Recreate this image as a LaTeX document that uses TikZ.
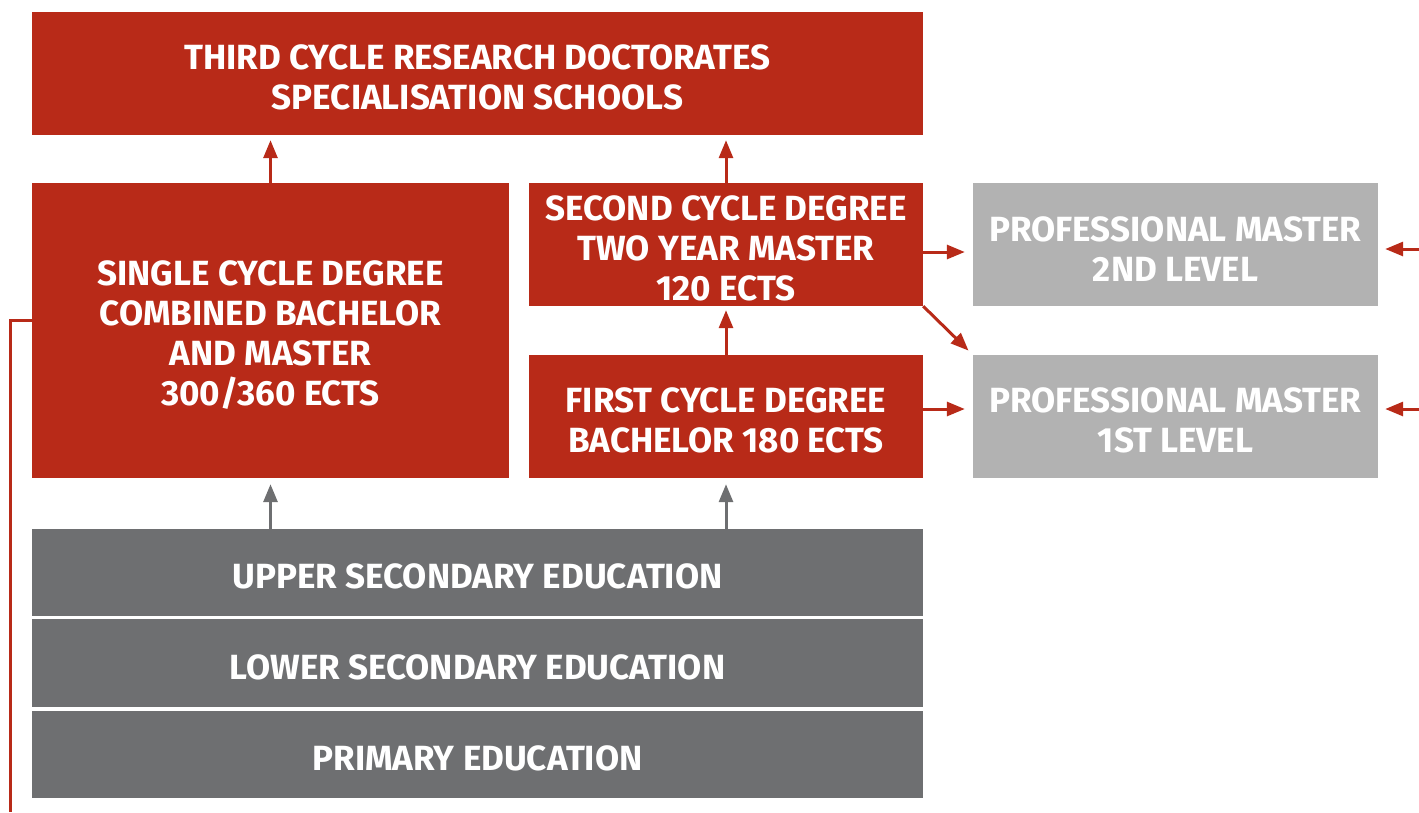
\documentclass[tikz,border=0pt]{standalone}
\usepackage{fontspec}
\setmainfont{Fira Sans}
\usetikzlibrary{arrows.meta}
\definecolor{cred}{RGB}{184,42,24}
\definecolor{cdark}{RGB}{110,111,113}
\definecolor{clight}{RGB}{178,178,178}
\newcommand{\tstrut}{\rule{0pt}{33pt}}
\begin{document}
\begin{tikzpicture}[x=1pt,y=-1pt,
  box/.style={inner sep=0pt,align=center,text=white,
    font=\fontsize{35}{40}\selectfont\bfseries},
  redbox/.style={box,fill=cred},
  darkbox/.style={box,fill=cdark},
  lightbox/.style={box,fill=clight},
  redarr/.style={draw=cred,line width=3pt,-{Triangle[length=18pt,width=14pt]}},
  grayarr/.style={draw=cdark,line width=3pt,-{Triangle[length=18pt,width=14pt]}},
  redline/.style={draw=cred,line width=3pt}]
\useasboundingbox (0,0) rectangle (1419,812);
\node[redbox,minimum width=891pt,minimum height=123pt] (top) at (477.5,73.5) {\tstrut THIRD CYCLE RESEARCH DOCTORATES\\SPECIALISATION SCHOOLS};
\node[redbox,minimum width=477pt,minimum height=295pt] (single) at (270.5,330.5) {\tstrut SINGLE CYCLE DEGREE\\COMBINED BACHELOR\\AND MASTER\\300/360 ECTS};
\node[redbox,minimum width=394pt,minimum height=123pt] (second) at (726,244.5) {\tstrut SECOND CYCLE DEGREE\\TWO YEAR MASTER\\120 ECTS};
\node[redbox,minimum width=394pt,minimum height=123pt] (first) at (726,416.5) {\tstrut FIRST CYCLE DEGREE\\BACHELOR 180 ECTS};
\node[lightbox,minimum width=405pt,minimum height=123pt] (pm2) at (1175.5,244.5) {\tstrut PROFESSIONAL MASTER\\2ND LEVEL};
\node[lightbox,minimum width=405pt,minimum height=123pt] (pm1) at (1175.5,416.5) {\tstrut PROFESSIONAL MASTER\\1ST LEVEL};
\node[darkbox,minimum width=891pt,minimum height=87pt] (upper) at (477.5,572.5) {\tstrut UPPER SECONDARY EDUCATION};
\node[darkbox,minimum width=891pt,minimum height=88pt] (lower) at (477.5,663) {\tstrut LOWER SECONDARY EDUCATION};
\node[darkbox,minimum width=891pt,minimum height=87pt] (primary) at (477.5,754.5) {\tstrut PRIMARY EDUCATION};
% vertical arrows
\draw[redarr,shorten >=5pt] (single.north) -- (single.north |- top.south);
\draw[redarr,shorten >=5pt] (second.north) -- (top.south -| second.north);
\draw[redarr,shorten >=4pt] (first.north) -- (second.south);
\draw[grayarr,shorten >=6pt] (upper.north -| single.south) -- (single.south);
\draw[grayarr,shorten >=6pt] (upper.north -| first.south) -- (first.south);
% horizontal arrows
\coordinate (a2) at (923,252);
\coordinate (a1) at (923,409);
\draw[redarr,shorten >=8pt] (a2) -- (pm2.west |- a2);
\draw[redarr,shorten >=8pt] (a1) -- (pm1.west |- a1);
\draw[redarr,shorten >=6pt] (second.south east) -- (pm1.north west);
% arrows from the right edge
\coordinate (e2) at (1419,249);
\coordinate (e1) at (1419,409);
\draw[redarr,shorten >=7pt] (e2) -- (pm2.east |- e2);
\draw[redarr,shorten >=7pt] (e1) -- (pm1.east |- e1);
% left line
\coordinate (l1) at (10,320);
\coordinate (l2) at (10,812);
\draw[redline] (single.west |- l1) -- (l1) -- (l2);
\end{tikzpicture}
\end{document}
